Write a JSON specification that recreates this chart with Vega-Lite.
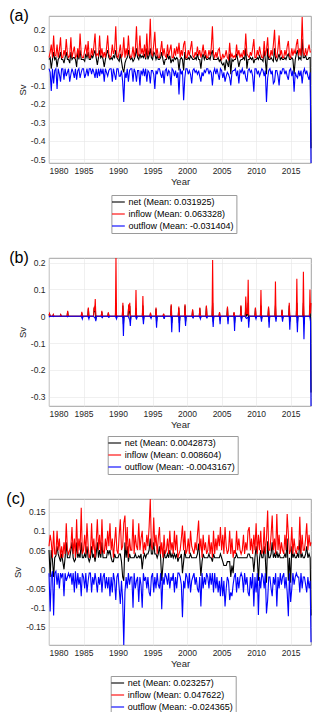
{
"$schema": "https://vega.github.io/schema/vega-lite/v6.json",
"padding": {"left": 5, "top": 7, "right": 6, "bottom": 4},
"spacing": 15,
"config": {
  "font": "Liberation Sans",
  "view": {"stroke": "#8c8c8c", "strokeWidth": 0.8},
  "axis": {"labelFont": "Liberation Sans", "labelFontSize": 8.5, "labelColor": "#262626", "titleFont": "Liberation Sans", "titleFontSize": 9.5, "titleFontWeight": "normal", "titleColor": "#262626", "gridColor": "#e6e6e6", "gridWidth": 0.6, "domain": false, "ticks": false, "grid": true, "labelOverlap": false},
  "legend": {"orient": "none", "strokeColor": "#9a9a9a", "fillColor": "white", "padding": 2, "labelFont": "Liberation Sans", "labelFontSize": 9, "labelColor": "black", "symbolType": "M-1.6,0H1.6", "symbolSize": 64, "symbolStrokeWidth": 1.2, "rowPadding": 2, "labelOffset": 5, "labelLimit": 0},
  "line": {"strokeWidth": 1.1}
},
"resolve": {"scale": {"color": "independent", "x": "independent", "y": "independent"}, "legend": {"color": "independent"}},
"vconcat": [
{
  "title": {"text": "(a)", "orient": "left", "anchor": "end", "frame": "group", "angle": 0, "align": "right", "baseline": "middle", "fontSize": 16, "fontWeight": "normal", "font": "Liberation Sans", "offset": -31, "color": "black"},
  "width": 262, "height": 147,
  "data": {"values": [
{"t":1980,"i":0.05,"o":-0.01,"n":0.04},{"t":1980.17,"i":0.08,"o":-0.03,"n":0.05},{"t":1980.33,"i":0.12,"o":-0.13,"n":-0.01},{"t":1980.5,"i":0.05,"o":-0.01,"n":0.04},{"t":1980.67,"i":0.17,"o":-0.09,"n":0.08},{"t":1980.83,"i":0.06,"o":-0.02,"n":0.04},
{"t":1981,"i":0.06,"o":-0.01,"n":0.05},{"t":1981.17,"i":0.12,"o":-0.12,"n":0.0},{"t":1981.33,"i":0.05,"o":-0.01,"n":0.04},{"t":1981.5,"i":0.09,"o":-0.04,"n":0.05},{"t":1981.67,"i":0.16,"o":-0.08,"n":0.08},{"t":1981.83,"i":0.05,"o":-0.01,"n":0.04},
{"t":1982,"i":0.05,"o":-0.01,"n":0.04},{"t":1982.17,"i":0.09,"o":-0.07,"n":0.02},{"t":1982.33,"i":0.06,"o":-0.01,"n":0.05},{"t":1982.5,"i":0.15,"o":-0.05,"n":0.08},{"t":1982.67,"i":0.07,"o":-0.03,"n":0.04},{"t":1982.83,"i":0.05,"o":-0.01,"n":0.04},
{"t":1983,"i":0.06,"o":-0.08,"n":0.02},{"t":1983.17,"i":0.16,"o":-0.04,"n":0.08},{"t":1983.33,"i":0.05,"o":-0.01,"n":0.04},{"t":1983.5,"i":0.08,"o":-0.03,"n":0.05},{"t":1983.67,"i":0.11,"o":-0.06,"n":0.05},{"t":1983.83,"i":0.05,"o":-0.01,"n":0.04},
{"t":1984,"i":0.06,"o":-0.07,"n":0.0},{"t":1984.17,"i":0.1,"o":-0.02,"n":0.08},{"t":1984.33,"i":0.05,"o":-0.01,"n":0.04},{"t":1984.5,"i":0.18,"o":-0.06,"n":0.09},{"t":1984.67,"i":0.07,"o":-0.03,"n":0.04},{"t":1984.83,"i":0.05,"o":-0.01,"n":0.04},
{"t":1985,"i":0.05,"o":-0.01,"n":0.04},{"t":1985.17,"i":0.09,"o":-0.06,"n":0.03},{"t":1985.33,"i":0.12,"o":-0.04,"n":0.07},{"t":1985.5,"i":0.06,"o":-0.01,"n":0.05},{"t":1985.67,"i":0.14,"o":-0.05,"n":0.08},{"t":1985.83,"i":0.05,"o":-0.01,"n":0.04},
{"t":1986,"i":0.05,"o":-0.01,"n":0.04},{"t":1986.17,"i":0.1,"o":-0.04,"n":0.06},{"t":1986.33,"i":0.06,"o":-0.01,"n":0.05},{"t":1986.5,"i":0.11,"o":-0.03,"n":0.07},{"t":1986.67,"i":0.18,"o":-0.06,"n":0.09},{"t":1986.83,"i":0.06,"o":-0.01,"n":0.05},
{"t":1987,"i":0.07,"o":-0.06,"n":0.01},{"t":1987.17,"i":0.06,"o":-0.01,"n":0.05},{"t":1987.33,"i":0.17,"o":-0.05,"n":0.09},{"t":1987.5,"i":0.06,"o":-0.01,"n":0.05},{"t":1987.67,"i":0.1,"o":-0.04,"n":0.06},{"t":1987.83,"i":0.05,"o":-0.01,"n":0.04},
{"t":1988,"i":0.08,"o":-0.08,"n":0.0},{"t":1988.17,"i":0.05,"o":-0.01,"n":0.04},{"t":1988.33,"i":0.1,"o":-0.03,"n":0.07},{"t":1988.5,"i":0.17,"o":-0.05,"n":0.09},{"t":1988.67,"i":0.07,"o":-0.02,"n":0.05},{"t":1988.83,"i":0.05,"o":-0.01,"n":0.04},
{"t":1989,"i":0.06,"o":-0.01,"n":0.05},{"t":1989.17,"i":0.12,"o":-0.08,"n":0.04},{"t":1989.33,"i":0.07,"o":-0.01,"n":0.06},{"t":1989.5,"i":0.09,"o":-0.04,"n":0.05},{"t":1989.67,"i":0.22,"o":-0.07,"n":0.09},{"t":1989.83,"i":0.06,"o":-0.01,"n":0.05},
{"t":1990,"i":0.05,"o":-0.01,"n":0.04},{"t":1990.17,"i":0.08,"o":-0.05,"n":0.03},{"t":1990.33,"i":0.12,"o":-0.05,"n":0.07},{"t":1990.5,"i":0.05,"o":-0.02,"n":0.03},{"t":1990.67,"i":0.07,"o":-0.08,"n":-0.01},{"t":1990.83,"i":0.16,"o":-0.19,"n":-0.03},
{"t":1991,"i":0.05,"o":-0.03,"n":0.02},{"t":1991.17,"i":0.1,"o":-0.06,"n":0.04},{"t":1991.33,"i":0.06,"o":-0.01,"n":0.05},{"t":1991.5,"i":0.17,"o":-0.08,"n":0.09},{"t":1991.67,"i":0.07,"o":-0.02,"n":0.05},{"t":1991.83,"i":0.05,"o":-0.01,"n":0.04},
{"t":1992,"i":0.06,"o":-0.01,"n":0.05},{"t":1992.17,"i":0.11,"o":-0.08,"n":0.03},{"t":1992.33,"i":0.05,"o":-0.01,"n":0.04},{"t":1992.5,"i":0.09,"o":-0.03,"n":0.06},{"t":1992.67,"i":0.22,"o":-0.08,"n":0.1},{"t":1992.83,"i":0.07,"o":-0.02,"n":0.05},
{"t":1993,"i":0.06,"o":-0.02,"n":0.04},{"t":1993.17,"i":0.17,"o":-0.1,"n":0.07},{"t":1993.33,"i":0.07,"o":-0.02,"n":0.05},{"t":1993.5,"i":0.1,"o":-0.04,"n":0.06},{"t":1993.67,"i":0.06,"o":-0.01,"n":0.05},{"t":1993.83,"i":0.12,"o":-0.05,"n":0.07},
{"t":1994,"i":0.05,"o":-0.01,"n":0.04},{"t":1994.17,"i":0.18,"o":-0.08,"n":0.1},{"t":1994.33,"i":0.06,"o":-0.02,"n":0.04},{"t":1994.5,"i":0.09,"o":-0.03,"n":0.06},{"t":1994.67,"i":0.26,"o":-0.09,"n":0.1},{"t":1994.83,"i":0.07,"o":-0.02,"n":0.05},
{"t":1995,"i":0.06,"o":-0.02,"n":0.04},{"t":1995.17,"i":0.12,"o":-0.04,"n":0.08},{"t":1995.33,"i":0.19,"o":-0.12,"n":0.07},{"t":1995.5,"i":0.06,"o":-0.02,"n":0.04},{"t":1995.67,"i":0.1,"o":-0.04,"n":0.06},{"t":1995.83,"i":0.05,"o":-0.01,"n":0.04},
{"t":1996,"i":0.05,"o":-0.01,"n":0.04},{"t":1996.17,"i":0.09,"o":-0.04,"n":0.05},{"t":1996.33,"i":0.14,"o":-0.06,"n":0.08},{"t":1996.5,"i":0.06,"o":-0.02,"n":0.04},{"t":1996.67,"i":0.1,"o":-0.09,"n":0.01},{"t":1996.83,"i":0.06,"o":-0.02,"n":0.04},
{"t":1997,"i":0.05,"o":-0.01,"n":0.04},{"t":1997.17,"i":0.12,"o":-0.05,"n":0.07},{"t":1997.33,"i":0.06,"o":-0.02,"n":0.04},{"t":1997.5,"i":0.09,"o":-0.03,"n":0.06},{"t":1997.67,"i":0.12,"o":-0.1,"n":0.02},{"t":1997.83,"i":0.05,"o":-0.01,"n":0.04},
{"t":1998,"i":0.05,"o":-0.02,"n":0.03},{"t":1998.17,"i":0.1,"o":-0.05,"n":0.05},{"t":1998.33,"i":0.06,"o":-0.02,"n":0.04},{"t":1998.5,"i":0.11,"o":-0.06,"n":0.05},{"t":1998.67,"i":0.07,"o":-0.03,"n":0.04},{"t":1998.83,"i":0.13,"o":-0.15,"n":-0.02},
{"t":1999,"i":0.05,"o":-0.01,"n":0.04},{"t":1999.17,"i":0.09,"o":-0.04,"n":0.05},{"t":1999.33,"i":0.06,"o":-0.02,"n":0.04},{"t":1999.5,"i":0.12,"o":-0.18,"n":-0.02},{"t":1999.67,"i":0.14,"o":-0.06,"n":0.08},{"t":1999.83,"i":0.05,"o":-0.01,"n":0.04},
{"t":2000,"i":0.05,"o":-0.01,"n":0.04},{"t":2000.17,"i":0.09,"o":-0.04,"n":0.05},{"t":2000.33,"i":0.06,"o":-0.02,"n":0.04},{"t":2000.5,"i":0.1,"o":-0.04,"n":0.06},{"t":2000.67,"i":0.14,"o":-0.09,"n":0.05},{"t":2000.83,"i":0.06,"o":-0.02,"n":0.04},
{"t":2001,"i":0.05,"o":-0.01,"n":0.04},{"t":2001.17,"i":0.08,"o":-0.03,"n":0.05},{"t":2001.33,"i":0.06,"o":-0.02,"n":0.04},{"t":2001.5,"i":0.11,"o":-0.04,"n":0.07},{"t":2001.67,"i":0.06,"o":-0.02,"n":0.04},{"t":2001.83,"i":0.09,"o":-0.05,"n":0.04},
{"t":2002,"i":0.05,"o":-0.08,"n":-0.01},{"t":2002.17,"i":0.08,"o":-0.03,"n":0.05},{"t":2002.33,"i":0.12,"o":-0.05,"n":0.07},{"t":2002.5,"i":0.06,"o":-0.02,"n":0.04},{"t":2002.67,"i":0.09,"o":-0.03,"n":0.06},{"t":2002.83,"i":0.05,"o":-0.01,"n":0.04},
{"t":2003,"i":0.05,"o":-0.01,"n":0.04},{"t":2003.17,"i":0.09,"o":-0.04,"n":0.05},{"t":2003.33,"i":0.06,"o":-0.02,"n":0.04},{"t":2003.5,"i":0.1,"o":-0.03,"n":0.07},{"t":2003.67,"i":0.22,"o":-0.1,"n":0.09},{"t":2003.83,"i":0.07,"o":-0.03,"n":0.04},
{"t":2004,"i":0.05,"o":-0.01,"n":0.04},{"t":2004.17,"i":0.08,"o":-0.04,"n":0.04},{"t":2004.33,"i":0.05,"o":-0.01,"n":0.04},{"t":2004.5,"i":0.09,"o":-0.04,"n":0.05},{"t":2004.67,"i":0.1,"o":-0.07,"n":0.03},{"t":2004.83,"i":0.05,"o":-0.01,"n":0.04},
{"t":2005,"i":0.04,"o":-0.02,"n":0.02},{"t":2005.17,"i":0.07,"o":-0.06,"n":0.01},{"t":2005.33,"i":0.05,"o":-0.03,"n":0.02},{"t":2005.5,"i":0.06,"o":-0.08,"n":-0.02},{"t":2005.67,"i":0.09,"o":-0.05,"n":0.04},{"t":2005.83,"i":0.05,"o":-0.03,"n":0.02},
{"t":2006,"i":0.04,"o":-0.04,"n":0.0},{"t":2006.17,"i":0.13,"o":-0.06,"n":0.07},{"t":2006.33,"i":0.05,"o":-0.1,"n":-0.04},{"t":2006.5,"i":0.07,"o":-0.03,"n":0.04},{"t":2006.67,"i":0.05,"o":-0.02,"n":0.03},{"t":2006.83,"i":0.06,"o":-0.02,"n":0.04},
{"t":2007,"i":0.05,"o":-0.01,"n":0.04},{"t":2007.17,"i":0.12,"o":-0.05,"n":0.07},{"t":2007.33,"i":0.06,"o":-0.02,"n":0.04},{"t":2007.5,"i":0.09,"o":-0.09,"n":0.0},{"t":2007.67,"i":0.05,"o":-0.02,"n":0.03},{"t":2007.83,"i":0.07,"o":-0.03,"n":0.04},
{"t":2008,"i":0.05,"o":-0.01,"n":0.04},{"t":2008.17,"i":0.09,"o":-0.04,"n":0.05},{"t":2008.33,"i":0.06,"o":-0.02,"n":0.04},{"t":2008.5,"i":0.18,"o":-0.06,"n":0.1},{"t":2008.67,"i":0.07,"o":-0.08,"n":-0.01},{"t":2008.83,"i":0.06,"o":-0.02,"n":0.04},
{"t":2009,"i":0.05,"o":-0.01,"n":0.04},{"t":2009.17,"i":0.08,"o":-0.03,"n":0.05},{"t":2009.33,"i":0.06,"o":-0.02,"n":0.04},{"t":2009.5,"i":0.1,"o":-0.05,"n":0.05},{"t":2009.67,"i":0.15,"o":-0.135,"n":0.02},{"t":2009.83,"i":0.05,"o":-0.01,"n":0.04},
{"t":2010,"i":0.05,"o":-0.01,"n":0.04},{"t":2010.17,"i":0.09,"o":-0.04,"n":0.05},{"t":2010.33,"i":0.06,"o":-0.02,"n":0.04},{"t":2010.5,"i":0.11,"o":-0.05,"n":0.06},{"t":2010.67,"i":0.07,"o":-0.03,"n":0.04},{"t":2010.83,"i":0.05,"o":-0.01,"n":0.04},
{"t":2011,"i":0.05,"o":-0.02,"n":0.03},{"t":2011.17,"i":0.14,"o":-0.05,"n":0.09},{"t":2011.33,"i":0.06,"o":-0.02,"n":0.04},{"t":2011.5,"i":0.09,"o":-0.19,"n":-0.04},{"t":2011.67,"i":0.16,"o":-0.06,"n":0.1},{"t":2011.83,"i":0.06,"o":-0.02,"n":0.04},
{"t":2012,"i":0.05,"o":-0.01,"n":0.04},{"t":2012.17,"i":0.09,"o":-0.04,"n":0.05},{"t":2012.33,"i":0.06,"o":-0.02,"n":0.04},{"t":2012.5,"i":0.12,"o":-0.09,"n":0.03},{"t":2012.67,"i":0.2,"o":-0.08,"n":0.1},{"t":2012.83,"i":0.06,"o":-0.02,"n":0.04},
{"t":2013,"i":0.05,"o":-0.02,"n":0.03},{"t":2013.17,"i":0.1,"o":-0.05,"n":0.05},{"t":2013.33,"i":0.17,"o":-0.1,"n":0.07},{"t":2013.5,"i":0.06,"o":-0.02,"n":0.04},{"t":2013.67,"i":0.09,"o":-0.04,"n":0.05},{"t":2013.83,"i":0.05,"o":-0.01,"n":0.04},
{"t":2014,"i":0.05,"o":-0.01,"n":0.04},{"t":2014.17,"i":0.09,"o":-0.04,"n":0.05},{"t":2014.33,"i":0.06,"o":-0.02,"n":0.04},{"t":2014.5,"i":0.11,"o":-0.05,"n":0.06},{"t":2014.67,"i":0.14,"o":-0.07,"n":0.07},{"t":2014.83,"i":0.06,"o":-0.02,"n":0.04},
{"t":2015,"i":0.05,"o":-0.01,"n":0.04},{"t":2015.17,"i":0.1,"o":-0.05,"n":0.05},{"t":2015.33,"i":0.06,"o":-0.02,"n":0.04},{"t":2015.5,"i":0.09,"o":-0.135,"n":-0.04},{"t":2015.67,"i":0.07,"o":-0.03,"n":0.04},{"t":2015.83,"i":0.12,"o":-0.05,"n":0.07},
{"t":2016,"i":0.15,"o":-0.06,"n":0.09},{"t":2016.17,"i":0.06,"o":-0.02,"n":0.04},{"t":2016.33,"i":0.1,"o":-0.05,"n":0.05},{"t":2016.5,"i":0.06,"o":-0.02,"n":0.04},{"t":2016.67,"i":0.27,"o":-0.09,"n":0.15},{"t":2016.83,"i":0.08,"o":-0.03,"n":0.05},
{"t":2017,"i":0.06,"o":-0.01,"n":0.05},{"t":2017.17,"i":0.1,"o":-0.04,"n":0.06},{"t":2017.33,"i":0.06,"o":-0.02,"n":0.04},{"t":2017.5,"i":0.09,"o":-0.05,"n":0.04},{"t":2017.67,"i":0.12,"o":-0.07,"n":0.05},{"t":2017.83,"i":0.08,"o":-0.03,"n":0.05},
{"t":2017.95,"i":0.08,"o":-0.52,"n":-0.44}
  ]},
  "encoding": {"x": {"field": "t", "type": "quantitative", "title": "Year", "scale": {"domain": [1980, 2017.95], "nice": false, "zero": false}, "axis": {"values": [1980,1985,1990,1995,2000,2005,2010,2015], "format": "d", "labelPadding": 3, "titlePadding": 2, "labelOverlap": false}}},
  "layer": [
    {"mark": {"type": "line"}, "encoding": {
      "y": {"field": "n", "type": "quantitative", "title": "Sv", "scale": {"domain": [-0.52, 0.275], "nice": false, "zero": false}, "axis": {"values": [-0.5,-0.4,-0.3,-0.2,-0.1,0,0.1,0.2], "labelExpr": "datum.value == 0 ? '0' : toString(round(datum.value * 100) / 100)", "labelOverlap": false, "labelPadding": 4, "titlePadding": 3}},
      "color": {"datum": "net (Mean: 0.031925)", "scale": {"domain": ["net (Mean: 0.031925)", "inflow (Mean: 0.063328)", "outflow (Mean: -0.031404)"], "range": ["#000000", "#ff0000", "#0000ff"]}, "legend": {"title": null, "legendX": 62.4, "legendY": 179}}}},
    {"mark": {"type": "line"}, "encoding": {
      "y": {"field": "i", "type": "quantitative", "title": "Sv", "scale": {"domain": [-0.52, 0.275], "nice": false, "zero": false}, "axis": {"values": [-0.5,-0.4,-0.3,-0.2,-0.1,0,0.1,0.2], "labelExpr": "datum.value == 0 ? '0' : toString(round(datum.value * 100) / 100)", "labelOverlap": false, "labelPadding": 4, "titlePadding": 3}},
      "color": {"datum": "inflow (Mean: 0.063328)", "scale": {"domain": ["net (Mean: 0.031925)", "inflow (Mean: 0.063328)", "outflow (Mean: -0.031404)"], "range": ["#000000", "#ff0000", "#0000ff"]}, "legend": {"title": null, "legendX": 62.4, "legendY": 179}}}},
    {"mark": {"type": "line"}, "encoding": {
      "y": {"field": "o", "type": "quantitative", "title": "Sv", "scale": {"domain": [-0.52, 0.275], "nice": false, "zero": false}, "axis": {"values": [-0.5,-0.4,-0.3,-0.2,-0.1,0,0.1,0.2], "labelExpr": "datum.value == 0 ? '0' : toString(round(datum.value * 100) / 100)", "labelOverlap": false, "labelPadding": 4, "titlePadding": 3}},
      "color": {"datum": "outflow (Mean: -0.031404)", "scale": {"domain": ["net (Mean: 0.031925)", "inflow (Mean: 0.063328)", "outflow (Mean: -0.031404)"], "range": ["#000000", "#ff0000", "#0000ff"]}, "legend": {"title": null, "legendX": 62.4, "legendY": 179}}}}
  ]
},
{
  "title": {"text": "(b)", "orient": "left", "anchor": "end", "frame": "group", "angle": 0, "align": "right", "baseline": "middle", "fontSize": 16, "fontWeight": "normal", "font": "Liberation Sans", "offset": -31, "color": "black"},
  "width": 262, "height": 148,
  "data": {"values": [
{"t":1980,"i":0.003,"o":0,"n":0.003},{"t":1980.08,"i":0.01,"o":-0.002,"n":0.008},{"t":1980.17,"i":0,"o":0,"n":0},
{"t":1980.55,"i":0,"o":0,"n":0},{"t":1980.62,"i":0.006,"o":-0.001,"n":0.005},{"t":1980.7,"i":0,"o":0,"n":0},
{"t":1981.62,"i":0,"o":0,"n":0},{"t":1981.7,"i":0.006,"o":0,"n":0.005},{"t":1981.78,"i":0,"o":0,"n":0},
{"t":1982.62,"i":0,"o":0,"n":0},{"t":1982.7,"i":0.02,"o":-0.002,"n":0.018},{"t":1982.78,"i":0,"o":0,"n":0},
{"t":1984.67,"i":0,"o":0,"n":0},{"t":1984.75,"i":0.017,"o":-0.004,"n":0.013},{"t":1984.83,"i":0.003,"o":-0.01,"n":-0.007},{"t":1984.92,"i":0,"o":0,"n":0},
{"t":1985.62,"i":0,"o":0,"n":0},{"t":1985.7,"i":0.033,"o":-0.004,"n":0.029},{"t":1985.78,"i":0.004,"o":-0.01,"n":-0.006},{"t":1985.87,"i":0,"o":0,"n":0},
{"t":1986.45,"i":0,"o":0,"n":0},{"t":1986.55,"i":0.035,"o":-0.003,"n":0.032},{"t":1986.62,"i":0.02,"o":-0.005,"n":0.015},{"t":1986.7,"i":0.064,"o":-0.008,"n":0.04},{"t":1986.78,"i":0.005,"o":-0.018,"n":-0.013},{"t":1986.87,"i":0,"o":0,"n":0},
{"t":1987.57,"i":0,"o":0,"n":0},{"t":1987.65,"i":0.02,"o":-0.003,"n":0.017},{"t":1987.73,"i":0.002,"o":-0.005,"n":-0.003},{"t":1987.82,"i":0,"o":0,"n":0},
{"t":1988.52,"i":0,"o":0,"n":0},{"t":1988.6,"i":0.015,"o":-0.002,"n":0.013},{"t":1988.68,"i":0.002,"o":-0.004,"n":-0.002},{"t":1988.77,"i":0,"o":0,"n":0},
{"t":1989.62,"i":0,"o":0,"n":0},{"t":1989.7,"i":0.2175,"o":-0.005,"n":0.05},{"t":1989.78,"i":0.005,"o":-0.01,"n":-0.005},{"t":1989.87,"i":0,"o":0,"n":0},
{"t":1990.62,"i":0,"o":0,"n":0},{"t":1990.7,"i":0.05,"o":-0.008,"n":0.04},{"t":1990.78,"i":0.006,"o":-0.074,"n":-0.03},{"t":1990.87,"i":0,"o":0,"n":0},
{"t":1991.45,"i":0,"o":0,"n":0},{"t":1991.55,"i":0.045,"o":-0.005,"n":0.04},{"t":1991.62,"i":0.02,"o":-0.01,"n":0.01},{"t":1991.7,"i":0.05,"o":-0.012,"n":0.038},{"t":1991.78,"i":0.004,"o":-0.036,"n":-0.02},{"t":1991.87,"i":0,"o":0,"n":0},
{"t":1992.52,"i":0,"o":0,"n":0},{"t":1992.6,"i":0.098,"o":-0.005,"n":0.03},{"t":1992.68,"i":0.005,"o":-0.012,"n":-0.007},{"t":1992.77,"i":0,"o":0,"n":0},
{"t":1993.52,"i":0,"o":0,"n":0},{"t":1993.6,"i":0.076,"o":-0.005,"n":0.04},{"t":1993.68,"i":0.005,"o":-0.03,"n":-0.015},{"t":1993.77,"i":0,"o":0,"n":0},
{"t":1994.62,"i":0,"o":0,"n":0},{"t":1994.7,"i":0.014,"o":-0.004,"n":0.01},{"t":1994.78,"i":0.002,"o":-0.008,"n":-0.006},{"t":1994.87,"i":0,"o":0,"n":0},
{"t":1995.42,"i":0,"o":0,"n":0},{"t":1995.5,"i":0.033,"o":-0.005,"n":0.028},{"t":1995.58,"i":0.004,"o":-0.043,"n":-0.02},{"t":1995.67,"i":0,"o":0,"n":0},
{"t":1996.52,"i":0,"o":0,"n":0},{"t":1996.6,"i":0.01,"o":-0.002,"n":0.008},{"t":1996.68,"i":0.002,"o":-0.01,"n":-0.008},{"t":1996.77,"i":0,"o":0,"n":0},
{"t":1997.62,"i":0,"o":0,"n":0},{"t":1997.7,"i":0.045,"o":-0.005,"n":0.04},{"t":1997.78,"i":0.004,"o":-0.06,"n":-0.025},{"t":1997.87,"i":0,"o":0,"n":0},
{"t":1998.72,"i":0,"o":0,"n":0},{"t":1998.8,"i":0.036,"o":-0.005,"n":0.031},{"t":1998.88,"i":0.004,"o":-0.06,"n":-0.025},{"t":1998.97,"i":0,"o":0,"n":0},
{"t":1999.62,"i":0,"o":0,"n":0},{"t":1999.7,"i":0.045,"o":-0.005,"n":0.04},{"t":1999.78,"i":0.004,"o":-0.036,"n":-0.02},{"t":1999.87,"i":0,"o":0,"n":0},
{"t":2000.72,"i":0,"o":0,"n":0},{"t":2000.8,"i":0.026,"o":-0.003,"n":0.023},{"t":2000.88,"i":0.003,"o":-0.006,"n":-0.003},{"t":2000.97,"i":0,"o":0,"n":0},
{"t":2001.77,"i":0,"o":0,"n":0},{"t":2001.85,"i":0.033,"o":-0.003,"n":0.03},{"t":2001.93,"i":0.003,"o":-0.01,"n":-0.007},{"t":2002.02,"i":0,"o":0,"n":0},
{"t":2002.72,"i":0,"o":0,"n":0},{"t":2002.8,"i":0.04,"o":-0.003,"n":0.037},{"t":2002.88,"i":0.003,"o":-0.006,"n":-0.003},{"t":2002.97,"i":0,"o":0,"n":0},
{"t":2003.62,"i":0,"o":0,"n":0},{"t":2003.7,"i":0.21,"o":-0.005,"n":0.05},{"t":2003.78,"i":0.006,"o":-0.04,"n":-0.02},{"t":2003.87,"i":0,"o":0,"n":0},
{"t":2004.62,"i":0,"o":0,"n":0},{"t":2004.7,"i":0.016,"o":-0.003,"n":0.013},{"t":2004.78,"i":0.003,"o":-0.03,"n":-0.015},{"t":2004.87,"i":0,"o":0,"n":0},
{"t":2005.77,"i":0,"o":0,"n":0},{"t":2005.85,"i":0.036,"o":-0.004,"n":0.032},{"t":2005.93,"i":0.004,"o":-0.03,"n":-0.015},{"t":2006.02,"i":0,"o":0,"n":0},
{"t":2006.72,"i":0,"o":0,"n":0},{"t":2006.8,"i":0.016,"o":-0.003,"n":0.013},{"t":2006.88,"i":0.003,"o":-0.055,"n":-0.025},{"t":2006.97,"i":0,"o":0,"n":0},
{"t":2007.72,"i":0,"o":0,"n":0},{"t":2007.8,"i":0.041,"o":-0.004,"n":0.037},{"t":2007.88,"i":0.004,"o":-0.02,"n":-0.01},{"t":2007.97,"i":0,"o":0,"n":0},
{"t":2008.42,"i":0,"o":0,"n":0},{"t":2008.5,"i":0.074,"o":-0.005,"n":0.03},{"t":2008.62,"i":0.01,"o":-0.008,"n":0.002},{"t":2008.77,"i":0.01,"o":-0.004,"n":0.006},{"t":2008.85,"i":0.136,"o":-0.006,"n":0.05},{"t":2008.93,"i":0.005,"o":-0.043,"n":-0.02},{"t":2009.02,"i":0,"o":0,"n":0},
{"t":2009.82,"i":0,"o":0,"n":0},{"t":2009.9,"i":0.033,"o":-0.003,"n":0.03},{"t":2009.98,"i":0.003,"o":-0.01,"n":-0.007},{"t":2010.07,"i":0,"o":0,"n":0},
{"t":2010.62,"i":0,"o":0,"n":0},{"t":2010.7,"i":0.098,"o":-0.005,"n":0.04},{"t":2010.78,"i":0.005,"o":-0.02,"n":-0.01},{"t":2010.87,"i":0,"o":0,"n":0},
{"t":2011.72,"i":0,"o":0,"n":0},{"t":2011.8,"i":0.036,"o":-0.004,"n":0.032},{"t":2011.88,"i":0.004,"o":-0.043,"n":-0.02},{"t":2011.97,"i":0,"o":0,"n":0},
{"t":2012.72,"i":0,"o":0,"n":0},{"t":2012.8,"i":0.13,"o":-0.005,"n":0.04},{"t":2012.88,"i":0.005,"o":-0.02,"n":-0.01},{"t":2012.97,"i":0,"o":0,"n":0},
{"t":2013.67,"i":0,"o":0,"n":0},{"t":2013.75,"i":0.025,"o":-0.003,"n":0.022},{"t":2013.83,"i":0.003,"o":-0.02,"n":-0.01},{"t":2013.92,"i":0,"o":0,"n":0},
{"t":2014.72,"i":0,"o":0,"n":0},{"t":2014.8,"i":0.05,"o":-0.004,"n":0.04},{"t":2014.88,"i":0.004,"o":-0.05,"n":-0.02},{"t":2014.97,"i":0,"o":0,"n":0},
{"t":2015.82,"i":0,"o":0,"n":0},{"t":2015.9,"i":0.14,"o":-0.005,"n":0.05},{"t":2015.98,"i":0.005,"o":-0.06,"n":-0.025},{"t":2016.07,"i":0,"o":0,"n":0},
{"t":2016.77,"i":0,"o":0,"n":0},{"t":2016.85,"i":0.166,"o":-0.006,"n":0.05},{"t":2016.93,"i":0.006,"o":-0.086,"n":-0.03},{"t":2017.02,"i":0,"o":0,"n":0},
{"t":2017.72,"i":0,"o":0,"n":0},{"t":2017.8,"i":0.1,"o":-0.005,"n":0.04},{"t":2017.88,"i":0.01,"o":-0.02,"n":-0.01},{"t":2017.95,"i":0.05,"o":-0.335,"n":-0.285}
  ]},
  "encoding": {"x": {"field": "t", "type": "quantitative", "title": "Year", "scale": {"domain": [1980, 2017.95], "nice": false, "zero": false}, "axis": {"values": [1980,1985,1990,1995,2000,2005,2010,2015], "format": "d", "labelPadding": 3, "titlePadding": 2, "labelOverlap": false}}},
  "layer": [
    {"mark": {"type": "line"}, "encoding": {
      "y": {"field": "n", "type": "quantitative", "title": "Sv", "scale": {"domain": [-0.335, 0.2175], "nice": false, "zero": false}, "axis": {"values": [-0.3,-0.2,-0.1,0,0.1,0.2], "labelExpr": "datum.value == 0 ? '0' : toString(round(datum.value * 100) / 100)", "labelOverlap": false, "labelPadding": 4, "titlePadding": 3}},
      "color": {"datum": "net (Mean: 0.0042873)", "scale": {"domain": ["net (Mean: 0.0042873)", "inflow (Mean: 0.008604)", "outflow (Mean: -0.0043167)"], "range": ["#000000", "#ff0000", "#0000ff"]}, "legend": {"title": null, "legendX": 58.7, "legendY": 178}}}},
    {"mark": {"type": "line"}, "encoding": {
      "y": {"field": "i", "type": "quantitative", "title": "Sv", "scale": {"domain": [-0.335, 0.2175], "nice": false, "zero": false}, "axis": {"values": [-0.3,-0.2,-0.1,0,0.1,0.2], "labelExpr": "datum.value == 0 ? '0' : toString(round(datum.value * 100) / 100)", "labelOverlap": false, "labelPadding": 4, "titlePadding": 3}},
      "color": {"datum": "inflow (Mean: 0.008604)", "scale": {"domain": ["net (Mean: 0.0042873)", "inflow (Mean: 0.008604)", "outflow (Mean: -0.0043167)"], "range": ["#000000", "#ff0000", "#0000ff"]}, "legend": {"title": null, "legendX": 58.7, "legendY": 178}}}},
    {"mark": {"type": "line"}, "encoding": {
      "y": {"field": "o", "type": "quantitative", "title": "Sv", "scale": {"domain": [-0.335, 0.2175], "nice": false, "zero": false}, "axis": {"values": [-0.3,-0.2,-0.1,0,0.1,0.2], "labelExpr": "datum.value == 0 ? '0' : toString(round(datum.value * 100) / 100)", "labelOverlap": false, "labelPadding": 4, "titlePadding": 3}},
      "color": {"datum": "outflow (Mean: -0.0043167)", "scale": {"domain": ["net (Mean: 0.0042873)", "inflow (Mean: 0.008604)", "outflow (Mean: -0.0043167)"], "range": ["#000000", "#ff0000", "#0000ff"]}, "legend": {"title": null, "legendX": 58.7, "legendY": 178}}}}
  ]
},
{
  "title": {"text": "(c)", "orient": "left", "anchor": "end", "frame": "group", "angle": 0, "align": "right", "baseline": "middle", "fontSize": 16, "fontWeight": "normal", "font": "Liberation Sans", "offset": -31, "color": "black"},
  "width": 262, "height": 146,
  "data": {"values": [
{"t":1980,"i":0.06,"o":-0.01,"n":0.05},{"t":1980.17,"i":0.09,"o":-0.11,"n":-0.02},{"t":1980.33,"i":0.07,"o":-0.02,"n":0.05},{"t":1980.5,"i":0.03,"o":-0.005,"n":0.025},{"t":1980.67,"i":0.1,"o":-0.12,"n":-0.02},{"t":1980.83,"i":0.04,"o":-0.01,"n":0.03},
{"t":1981,"i":0.04,"o":-0.005,"n":0.035},{"t":1981.17,"i":0.1,"o":-0.04,"n":0.06},{"t":1981.33,"i":0.05,"o":-0.01,"n":0.04},{"t":1981.5,"i":0.08,"o":-0.05,"n":0.03},{"t":1981.67,"i":0.03,"o":-0.01,"n":0.02},{"t":1981.83,"i":0.06,"o":-0.02,"n":0.04},
{"t":1982,"i":0.03,"o":-0.01,"n":0.02},{"t":1982.17,"i":0.07,"o":-0.07,"n":0.0},{"t":1982.33,"i":0.04,"o":-0.01,"n":0.03},{"t":1982.5,"i":0.12,"o":-0.03,"n":0.07},{"t":1982.67,"i":0.05,"o":-0.02,"n":0.03},{"t":1982.83,"i":0.04,"o":-0.01,"n":0.03},
{"t":1983,"i":0.05,"o":-0.02,"n":0.03},{"t":1983.17,"i":0.06,"o":-0.01,"n":0.05},{"t":1983.33,"i":0.11,"o":-0.04,"n":0.07},{"t":1983.5,"i":0.04,"o":-0.01,"n":0.03},{"t":1983.67,"i":0.08,"o":-0.06,"n":0.02},{"t":1983.83,"i":0.03,"o":-0.005,"n":0.025},
{"t":1984,"i":0.13,"o":-0.05,"n":0.07},{"t":1984.17,"i":0.04,"o":-0.01,"n":0.03},{"t":1984.33,"i":0.08,"o":-0.04,"n":0.04},{"t":1984.5,"i":0.05,"o":-0.02,"n":0.03},{"t":1984.67,"i":0.16,"o":-0.07,"n":0.07},{"t":1984.83,"i":0.04,"o":-0.01,"n":0.03},
{"t":1985,"i":0.05,"o":-0.02,"n":0.03},{"t":1985.17,"i":0.09,"o":-0.05,"n":0.04},{"t":1985.33,"i":0.04,"o":-0.01,"n":0.03},{"t":1985.5,"i":0.12,"o":-0.06,"n":0.06},{"t":1985.67,"i":0.06,"o":-0.03,"n":0.03},{"t":1985.83,"i":0.03,"o":-0.01,"n":0.02},
{"t":1986,"i":0.04,"o":-0.01,"n":0.03},{"t":1986.17,"i":0.12,"o":-0.06,"n":0.06},{"t":1986.33,"i":0.05,"o":-0.02,"n":0.03},{"t":1986.5,"i":0.08,"o":-0.04,"n":0.04},{"t":1986.67,"i":0.03,"o":-0.01,"n":0.02},{"t":1986.83,"i":0.07,"o":-0.03,"n":0.04},
{"t":1987,"i":0.13,"o":-0.06,"n":0.07},{"t":1987.17,"i":0.05,"o":-0.02,"n":0.03},{"t":1987.33,"i":0.09,"o":-0.04,"n":0.05},{"t":1987.5,"i":0.04,"o":-0.01,"n":0.03},{"t":1987.67,"i":0.13,"o":-0.06,"n":0.07},{"t":1987.83,"i":0.05,"o":-0.02,"n":0.03},
{"t":1988,"i":0.04,"o":-0.01,"n":0.03},{"t":1988.17,"i":0.08,"o":-0.05,"n":0.03},{"t":1988.33,"i":0.05,"o":-0.02,"n":0.03},{"t":1988.5,"i":0.1,"o":-0.05,"n":0.05},{"t":1988.67,"i":0.06,"o":-0.02,"n":0.04},{"t":1988.83,"i":0.12,"o":-0.07,"n":0.05},
{"t":1989,"i":0.05,"o":-0.02,"n":0.03},{"t":1989.17,"i":0.08,"o":-0.06,"n":0.02},{"t":1989.33,"i":0.03,"o":-0.01,"n":0.02},{"t":1989.5,"i":0.07,"o":-0.03,"n":0.04},{"t":1989.67,"i":0.11,"o":-0.08,"n":0.03},{"t":1989.83,"i":0.05,"o":-0.02,"n":0.03},
{"t":1990,"i":0.04,"o":-0.01,"n":0.03},{"t":1990.17,"i":0.09,"o":-0.05,"n":0.04},{"t":1990.33,"i":0.13,"o":-0.09,"n":0.04},{"t":1990.5,"i":0.05,"o":-0.03,"n":0.02},{"t":1990.67,"i":0.06,"o":-0.08,"n":-0.02},{"t":1990.83,"i":0.12,"o":-0.197,"n":-0.03},
{"t":1991,"i":0.14,"o":-0.06,"n":0.07},{"t":1991.17,"i":0.05,"o":-0.02,"n":0.03},{"t":1991.33,"i":0.11,"o":-0.05,"n":0.06},{"t":1991.5,"i":0.03,"o":-0.01,"n":0.02},{"t":1991.67,"i":0.08,"o":-0.04,"n":0.04},{"t":1991.83,"i":0.05,"o":-0.02,"n":0.03},
{"t":1992,"i":0.05,"o":-0.02,"n":0.03},{"t":1992.17,"i":0.13,"o":-0.1,"n":0.03},{"t":1992.33,"i":0.04,"o":-0.01,"n":0.03},{"t":1992.5,"i":0.09,"o":-0.05,"n":0.04},{"t":1992.67,"i":0.06,"o":-0.03,"n":0.03},{"t":1992.83,"i":0.05,"o":-0.02,"n":0.03},
{"t":1993,"i":0.12,"o":-0.085,"n":0.035},{"t":1993.17,"i":0.05,"o":-0.02,"n":0.03},{"t":1993.33,"i":0.08,"o":-0.04,"n":0.04},{"t":1993.5,"i":0.1,"o":-0.1,"n":0.0},{"t":1993.67,"i":0.04,"o":-0.01,"n":0.03},{"t":1993.83,"i":0.07,"o":-0.03,"n":0.04},
{"t":1994,"i":0.05,"o":-0.02,"n":0.03},{"t":1994.17,"i":0.09,"o":-0.05,"n":0.04},{"t":1994.33,"i":0.06,"o":-0.02,"n":0.04},{"t":1994.5,"i":0.11,"o":-0.06,"n":0.05},{"t":1994.67,"i":0.183,"o":-0.07,"n":0.08},{"t":1994.83,"i":0.06,"o":-0.02,"n":0.04},
{"t":1995,"i":0.05,"o":-0.01,"n":0.04},{"t":1995.17,"i":0.135,"o":-0.06,"n":0.07},{"t":1995.33,"i":0.06,"o":-0.02,"n":0.04},{"t":1995.5,"i":0.09,"o":-0.05,"n":0.04},{"t":1995.67,"i":0.04,"o":-0.01,"n":0.03},{"t":1995.83,"i":0.08,"o":-0.04,"n":0.04},
{"t":1996,"i":0.11,"o":-0.05,"n":0.06},{"t":1996.17,"i":0.04,"o":-0.01,"n":0.03},{"t":1996.33,"i":0.07,"o":-0.104,"n":-0.03},{"t":1996.5,"i":0.03,"o":-0.02,"n":0.01},{"t":1996.67,"i":0.09,"o":-0.04,"n":0.05},{"t":1996.83,"i":0.04,"o":-0.01,"n":0.03},
{"t":1997,"i":0.05,"o":-0.02,"n":0.03},{"t":1997.17,"i":0.08,"o":-0.04,"n":0.04},{"t":1997.33,"i":0.04,"o":-0.01,"n":0.03},{"t":1997.5,"i":0.1,"o":-0.05,"n":0.05},{"t":1997.67,"i":0.05,"o":-0.02,"n":0.03},{"t":1997.83,"i":0.07,"o":-0.03,"n":0.04},
{"t":1998,"i":0.04,"o":-0.01,"n":0.03},{"t":1998.17,"i":0.1,"o":-0.06,"n":0.04},{"t":1998.33,"i":0.05,"o":-0.02,"n":0.03},{"t":1998.5,"i":0.09,"o":-0.05,"n":0.04},{"t":1998.67,"i":0.03,"o":-0.01,"n":0.02},{"t":1998.83,"i":0.04,"o":-0.01,"n":0.03},
{"t":1999,"i":0.05,"o":-0.02,"n":0.03},{"t":1999.17,"i":0.08,"o":-0.04,"n":0.04},{"t":1999.33,"i":0.114,"o":-0.125,"n":-0.01},{"t":1999.5,"i":0.05,"o":-0.03,"n":0.02},{"t":1999.67,"i":0.1,"o":-0.05,"n":0.05},{"t":1999.83,"i":0.04,"o":-0.01,"n":0.03},
{"t":2000,"i":0.05,"o":-0.02,"n":0.03},{"t":2000.17,"i":0.08,"o":-0.05,"n":0.03},{"t":2000.33,"i":0.04,"o":-0.01,"n":0.03},{"t":2000.5,"i":0.1,"o":-0.06,"n":0.04},{"t":2000.67,"i":0.06,"o":-0.03,"n":0.03},{"t":2000.83,"i":0.05,"o":-0.02,"n":0.03},
{"t":2001,"i":0.04,"o":-0.01,"n":0.03},{"t":2001.17,"i":0.07,"o":-0.04,"n":0.03},{"t":2001.33,"i":0.05,"o":-0.02,"n":0.03},{"t":2001.5,"i":0.09,"o":-0.05,"n":0.04},{"t":2001.67,"i":0.127,"o":-0.06,"n":0.067},{"t":2001.83,"i":0.05,"o":-0.02,"n":0.03},
{"t":2002,"i":0.08,"o":-0.097,"n":-0.017},{"t":2002.17,"i":0.03,"o":-0.01,"n":0.02},{"t":2002.33,"i":0.09,"o":-0.05,"n":0.04},{"t":2002.5,"i":0.05,"o":-0.02,"n":0.03},{"t":2002.67,"i":0.07,"o":-0.04,"n":0.03},{"t":2002.83,"i":0.04,"o":-0.01,"n":0.03},
{"t":2003,"i":0.05,"o":-0.02,"n":0.03},{"t":2003.17,"i":0.09,"o":-0.05,"n":0.04},{"t":2003.33,"i":0.04,"o":-0.01,"n":0.03},{"t":2003.5,"i":0.07,"o":-0.04,"n":0.03},{"t":2003.67,"i":0.03,"o":-0.01,"n":0.02},{"t":2003.83,"i":0.1,"o":-0.06,"n":0.04},
{"t":2004,"i":0.04,"o":-0.01,"n":0.03},{"t":2004.17,"i":0.08,"o":-0.05,"n":0.03},{"t":2004.33,"i":0.05,"o":-0.02,"n":0.03},{"t":2004.5,"i":0.09,"o":-0.06,"n":0.03},{"t":2004.67,"i":0.06,"o":-0.03,"n":0.03},{"t":2004.83,"i":0.11,"o":-0.07,"n":0.04},
{"t":2005,"i":0.05,"o":-0.02,"n":0.03},{"t":2005.17,"i":0.09,"o":-0.07,"n":0.02},{"t":2005.33,"i":0.04,"o":-0.03,"n":0.01},{"t":2005.5,"i":0.11,"o":-0.097,"n":0.01},{"t":2005.67,"i":0.06,"o":-0.05,"n":0.01},{"t":2005.83,"i":0.04,"o":-0.02,"n":0.02},
{"t":2006,"i":0.05,"o":-0.03,"n":0.02},{"t":2006.17,"i":0.1,"o":-0.08,"n":0.02},{"t":2006.33,"i":0.04,"o":-0.06,"n":-0.02},{"t":2006.5,"i":0.08,"o":-0.07,"n":0.01},{"t":2006.67,"i":0.03,"o":-0.04,"n":-0.01},{"t":2006.83,"i":0.05,"o":-0.02,"n":0.03},
{"t":2007,"i":0.04,"o":-0.01,"n":0.03},{"t":2007.17,"i":0.1,"o":-0.06,"n":0.04},{"t":2007.33,"i":0.05,"o":-0.02,"n":0.03},{"t":2007.5,"i":0.08,"o":-0.05,"n":0.03},{"t":2007.67,"i":0.05,"o":-0.02,"n":0.03},{"t":2007.83,"i":0.04,"o":-0.01,"n":0.03},
{"t":2008,"i":0.05,"o":-0.02,"n":0.03},{"t":2008.17,"i":0.09,"o":-0.06,"n":0.03},{"t":2008.33,"i":0.04,"o":-0.01,"n":0.03},{"t":2008.5,"i":0.07,"o":-0.04,"n":0.03},{"t":2008.67,"i":0.05,"o":-0.02,"n":0.03},{"t":2008.83,"i":0.1,"o":-0.06,"n":0.04},
{"t":2009,"i":0.11,"o":-0.07,"n":0.04},{"t":2009.17,"i":0.05,"o":-0.02,"n":0.03},{"t":2009.33,"i":0.08,"o":-0.05,"n":0.03},{"t":2009.5,"i":0.04,"o":-0.01,"n":0.03},{"t":2009.67,"i":0.09,"o":-0.097,"n":-0.007},{"t":2009.83,"i":0.05,"o":-0.02,"n":0.03},
{"t":2010,"i":0.12,"o":-0.06,"n":0.06},{"t":2010.17,"i":0.04,"o":-0.01,"n":0.03},{"t":2010.33,"i":0.09,"o":-0.119,"n":-0.03},{"t":2010.5,"i":0.05,"o":-0.02,"n":0.03},{"t":2010.67,"i":0.1,"o":-0.05,"n":0.05},{"t":2010.83,"i":0.04,"o":-0.01,"n":0.03},
{"t":2011,"i":0.05,"o":-0.02,"n":0.03},{"t":2011.17,"i":0.11,"o":-0.05,"n":0.06},{"t":2011.33,"i":0.04,"o":-0.01,"n":0.03},{"t":2011.5,"i":0.08,"o":-0.115,"n":-0.035},{"t":2011.67,"i":0.153,"o":-0.08,"n":0.073},{"t":2011.83,"i":0.05,"o":-0.02,"n":0.03},
{"t":2012,"i":0.05,"o":-0.02,"n":0.03},{"t":2012.17,"i":0.09,"o":-0.05,"n":0.04},{"t":2012.33,"i":0.14,"o":-0.07,"n":0.07},{"t":2012.5,"i":0.05,"o":-0.02,"n":0.03},{"t":2012.67,"i":0.08,"o":-0.04,"n":0.04},{"t":2012.83,"i":0.04,"o":-0.01,"n":0.03},
{"t":2013,"i":0.144,"o":-0.097,"n":0.047},{"t":2013.17,"i":0.05,"o":-0.02,"n":0.03},{"t":2013.33,"i":0.09,"o":-0.05,"n":0.04},{"t":2013.5,"i":0.04,"o":-0.01,"n":0.03},{"t":2013.67,"i":0.07,"o":-0.04,"n":0.03},{"t":2013.83,"i":0.05,"o":-0.02,"n":0.03},
{"t":2014,"i":0.04,"o":-0.01,"n":0.03},{"t":2014.17,"i":0.09,"o":-0.05,"n":0.04},{"t":2014.33,"i":0.05,"o":-0.02,"n":0.03},{"t":2014.5,"i":0.144,"o":-0.06,"n":0.08},{"t":2014.67,"i":0.09,"o":-0.122,"n":-0.03},{"t":2014.83,"i":0.04,"o":-0.01,"n":0.03},
{"t":2015,"i":0.05,"o":-0.085,"n":-0.035},{"t":2015.17,"i":0.11,"o":-0.05,"n":0.06},{"t":2015.33,"i":0.04,"o":-0.01,"n":0.03},{"t":2015.5,"i":0.08,"o":-0.04,"n":0.04},{"t":2015.67,"i":0.05,"o":-0.02,"n":0.03},{"t":2015.83,"i":0.04,"o":-0.01,"n":0.03},
{"t":2016,"i":0.06,"o":-0.02,"n":0.04},{"t":2016.17,"i":0.05,"o":-0.02,"n":0.03},{"t":2016.33,"i":0.137,"o":-0.06,"n":0.077},{"t":2016.5,"i":0.04,"o":-0.01,"n":0.03},{"t":2016.67,"i":0.09,"o":-0.05,"n":0.04},{"t":2016.83,"i":0.05,"o":-0.02,"n":0.03},
{"t":2017,"i":0.05,"o":-0.02,"n":0.03},{"t":2017.17,"i":0.08,"o":-0.04,"n":0.04},{"t":2017.33,"i":0.12,"o":-0.06,"n":0.06},{"t":2017.5,"i":0.05,"o":-0.02,"n":0.03},{"t":2017.67,"i":0.09,"o":-0.05,"n":0.04},{"t":2017.83,"i":0.06,"o":-0.03,"n":0.03},
{"t":2017.95,"i":0.07,"o":-0.19,"n":-0.12}
  ]},
  "encoding": {"x": {"field": "t", "type": "quantitative", "title": "Year", "scale": {"domain": [1980, 2017.95], "nice": false, "zero": false}, "axis": {"values": [1980,1985,1990,1995,2000,2005,2010,2015], "format": "d", "labelPadding": 3, "titlePadding": 2, "labelOverlap": false}}},
  "layer": [
    {"mark": {"type": "line"}, "encoding": {
      "y": {"field": "n", "type": "quantitative", "title": "Sv", "scale": {"domain": [-0.197, 0.183], "nice": false, "zero": false}, "axis": {"values": [-0.15,-0.1,-0.05,0,0.05,0.1,0.15], "labelExpr": "datum.value == 0 ? '0' : toString(round(datum.value * 100) / 100)", "labelOverlap": false, "labelPadding": 4, "titlePadding": 3}},
      "color": {"datum": "net (Mean: 0.023257)", "scale": {"domain": ["net (Mean: 0.023257)", "inflow (Mean: 0.047622)", "outflow (Mean: -0.024365)"], "range": ["#000000", "#ff0000", "#0000ff"]}, "legend": {"title": null, "legendX": 61.7, "legendY": 177}}}},
    {"mark": {"type": "line"}, "encoding": {
      "y": {"field": "i", "type": "quantitative", "title": "Sv", "scale": {"domain": [-0.197, 0.183], "nice": false, "zero": false}, "axis": {"values": [-0.15,-0.1,-0.05,0,0.05,0.1,0.15], "labelExpr": "datum.value == 0 ? '0' : toString(round(datum.value * 100) / 100)", "labelOverlap": false, "labelPadding": 4, "titlePadding": 3}},
      "color": {"datum": "inflow (Mean: 0.047622)", "scale": {"domain": ["net (Mean: 0.023257)", "inflow (Mean: 0.047622)", "outflow (Mean: -0.024365)"], "range": ["#000000", "#ff0000", "#0000ff"]}, "legend": {"title": null, "legendX": 61.7, "legendY": 177}}}},
    {"mark": {"type": "line"}, "encoding": {
      "y": {"field": "o", "type": "quantitative", "title": "Sv", "scale": {"domain": [-0.197, 0.183], "nice": false, "zero": false}, "axis": {"values": [-0.15,-0.1,-0.05,0,0.05,0.1,0.15], "labelExpr": "datum.value == 0 ? '0' : toString(round(datum.value * 100) / 100)", "labelOverlap": false, "labelPadding": 4, "titlePadding": 3}},
      "color": {"datum": "outflow (Mean: -0.024365)", "scale": {"domain": ["net (Mean: 0.023257)", "inflow (Mean: 0.047622)", "outflow (Mean: -0.024365)"], "range": ["#000000", "#ff0000", "#0000ff"]}, "legend": {"title": null, "legendX": 61.7, "legendY": 177}}}}
  ]
}
]
}
